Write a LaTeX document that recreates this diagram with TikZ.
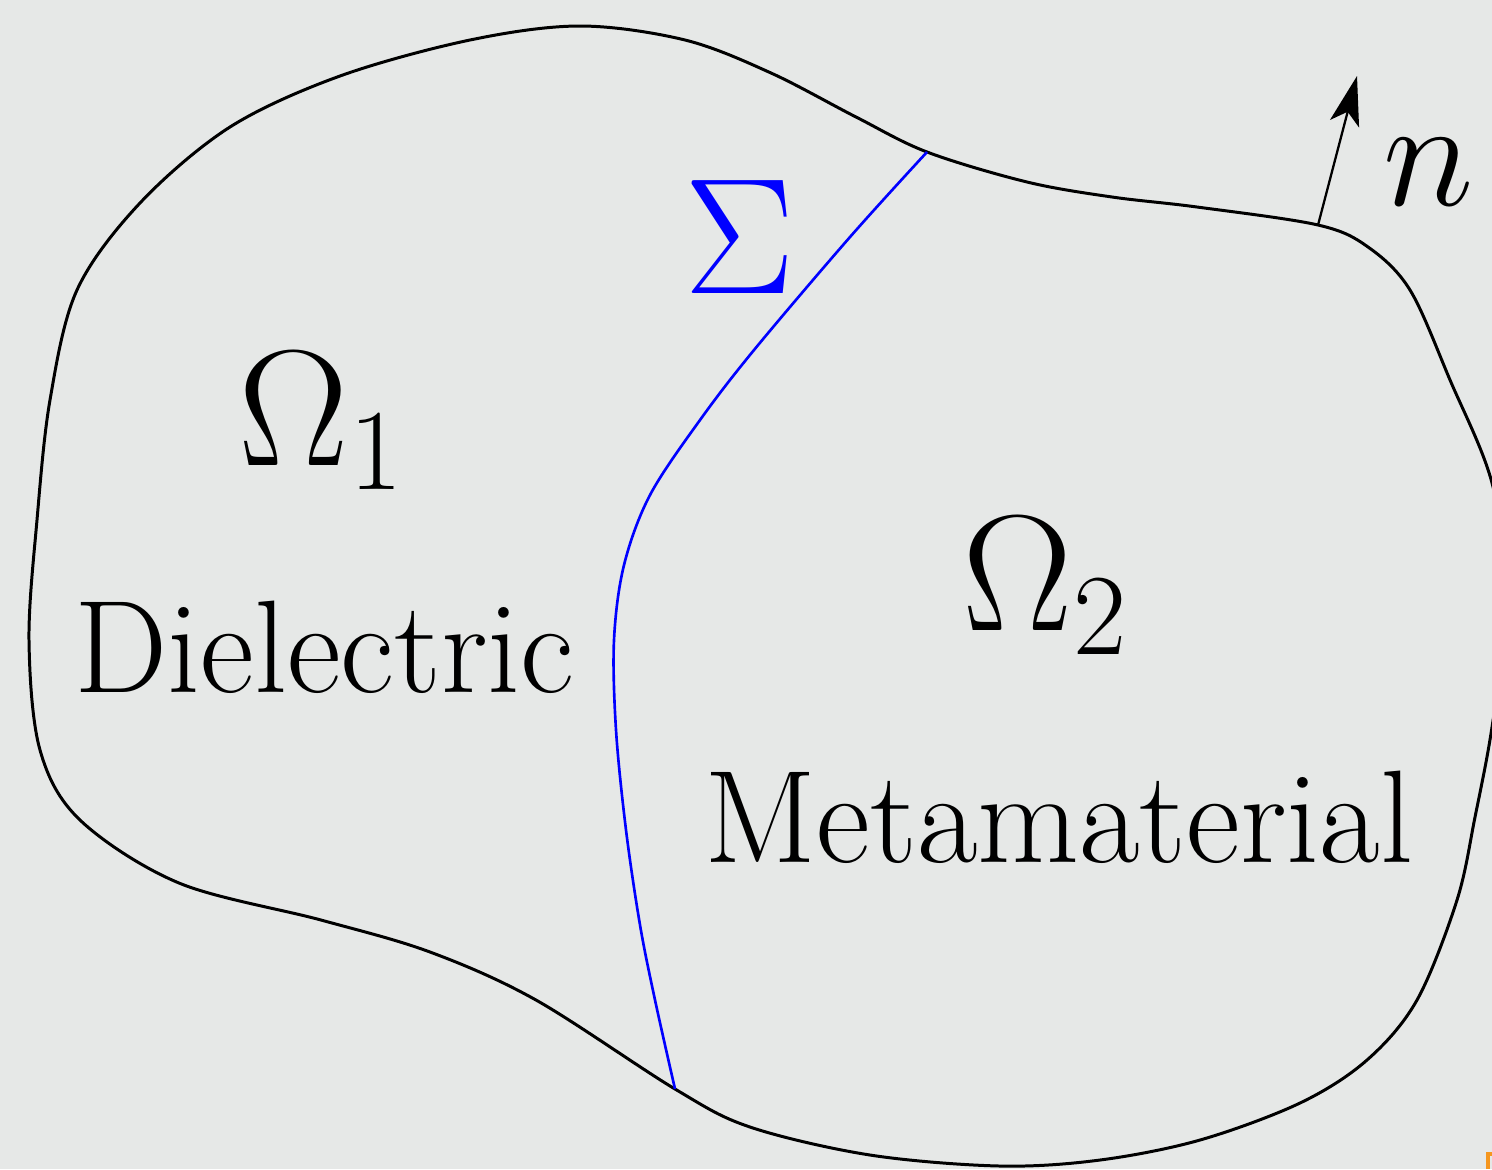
\RequirePackage{fix-cm}
\documentclass[tikz,border=0pt]{standalone}
\usetikzlibrary{arrows.meta}
\definecolor{bgcol}{RGB}{230,232,231}
\definecolor{markorange}{RGB}{245,150,30}
\begin{document}
\begin{tikzpicture}[x=0.01cm,y=-0.01cm,
  boundary/.style={line width=0.85pt,black},
  interface/.style={line width=0.75pt,blue},
  normalarrow/.style={line width=0.65pt,-{Stealth[length=14pt,width=8.5pt,inset=3.5pt]}},
  txt/.style={inner sep=0pt,anchor=base west,font=\fontsize{37.5}{40}\selectfont},
  mth/.style={inner sep=0pt,anchor=base west,font=\fontsize{47}{52}\selectfont}]
\useasboundingbox (0,0) rectangle (1492,1169);
\clip (0,0) rectangle (1492,1169);
\fill[bgcol] (0,0) rectangle (1492,1169);
\coordinate (jt) at (927,152);
\coordinate (jb) at (675,1089);
\coordinate (nb) at (1318,225);
\coordinate (nt) at (1357,76);
\draw[boundary] plot[smooth cycle, tension=0.55] coordinates {
 (580,26) (685,40) (771,73) (856,117) (jt) (1027,182) (1112,197) (1197,207)
 (nb) (1368,247) (1410,290) (1450,380) (1492,483) (1508,600)
 (1492,727) (1475,817) (1457,900) (1417,1000) (1367,1060) (1300,1103)
 (1200,1140) (1100,1160) (1000,1166) (870,1155) (750,1127) (jb)
 (536,1000) (430,952) (321,920) (179,883) (80,820) (40,750) (29,640)
 (37,520) (50,400) (77,290) (140,203) (230,127) (340,76) (470,40)};
\draw[interface] plot[smooth, tension=0.55] coordinates {
 (jt) (850,237) (754,350) (700,420) (650,495) (624,565) (614,640) (616,730)
 (626,830) (640,925) (655,1000) (jb)};
\draw[normalarrow] (nb) -- (nt);
\node[mth,font=\fontsize{44}{48}\selectfont] (n) at (1383,205) {$n$};
\node[mth,text=blue] (sigma) at (684,293) {$\Sigma$};
\node[mth] (om1) at (238,465) {$\Omega_1$};
\node[mth] (om2) at (962,630) {$\Omega_2$};
\node[txt] (diel) at (74,692) {Dielectric};
\node[txt] (meta) at (704,862) {Metamaterial};
\draw[markorange,line width=1pt] (1488,1169) -- (1488,1154) -- (1496,1154);
\end{tikzpicture}
\end{document}
